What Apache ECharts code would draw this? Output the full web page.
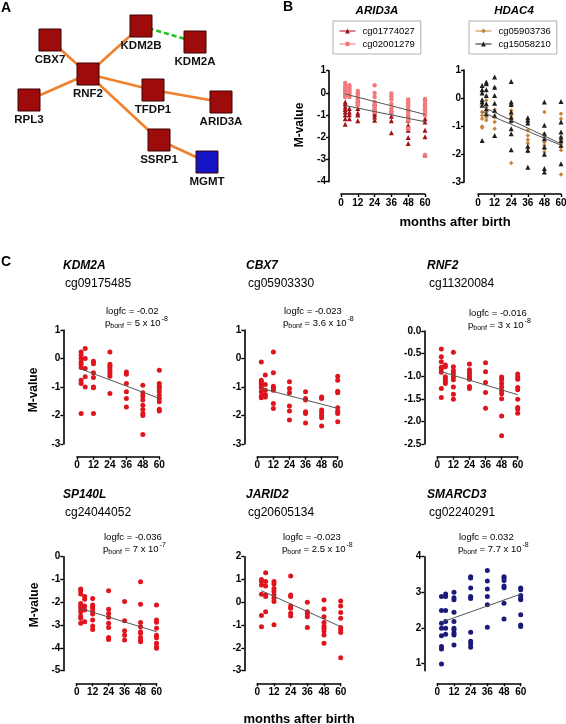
<!DOCTYPE html>
<html><head><meta charset="utf-8">
<script src="https://cdn.jsdelivr.net/npm/echarts@6/dist/echarts.min.js"></script>
<style>html,body{margin:0;padding:0;background:#fff}#c{width:566px;height:724px}</style>
</head><body><div id="c"></div><script>
const FONT = '"Liberation Sans", Arial, Helvetica, sans-serif';
const months = [3, 6, 12, 24, 36, 48, 60];
const fitMonths = [3, 60];

// ---- Panel A network ----
const netNodes = ['KDM2B','KDM2A','CBX7','RNF2','RPL3','TFDP1','ARID3A','SSRP1','MGMT'];
const netPos = [[141,26],[195,42],[50,40],[88,74],[29,100],[153,90],[221,102],[159,140],[207,162]];
const netBlue = ['MGMT'];
const netLinks = [['CBX7','RNF2'],['RNF2','KDM2B'],['RNF2','RPL3'],['RNF2','TFDP1'],['TFDP1','ARID3A'],['RNF2','SSRP1'],['SSRP1','MGMT']];
const netDashedLinks = [['KDM2B','KDM2A']];

// ---- Panel B ----
const arid3aNames = ['cg01774027','cg02001279'];
const arid3aA = [[-0.41,-0.5,-0.63,-0.75,-0.86,-1.0,-1.16,-1.41],[-0.7,-0.86,-0.98,-1.16],[-0.33,-0.48,-0.7,-0.9,-1.0,-1.26],[-0.48,-0.63,-0.75,-0.86,-0.96,-1.08,-1.23],[-0.75,-0.86,-1.05,-1.26,-1.79],[-1.0,-1.23,-1.46,-1.56,-1.68,-2.01,-2.28],[-1.16,-1.31,-1.68,-1.98,-2.8]];
const arid3aB = [[0.45,0.3,0.2,0.12,0,-0.1,-0.18],[0.35,0.24,0.15,0.05,-0.03,-0.18],[0.09,0,-0.1,-0.26,-0.33,-0.48,-0.56],[0.35,0,-0.18,-0.41,-0.5,-0.63,-0.75,-0.86],[-0.03,-0.15,-0.3,-0.5,-0.7,-0.86],[-0.3,-0.41,-0.5,-0.6,-0.75,-0.86,-1.0,-1.23,-1.6],[-0.27,-0.33,-0.45,-0.56,-0.66,-0.78,-0.93,-1.02,-2.8]];
const arid3aFitA = [-0.57,-1.3];
const arid3aFitB = [-0.05,-0.97];

const hdac4Names = ['cg05903736','cg15058210'];
const hdac4A = [[-0.5,-0.62,-0.74,-1.01,-1.06],[-0.08,-0.32,-0.5,-0.68,-0.79],[0.37,-0.42,-0.68,-0.85,-1.09],[-0.26,-0.44,-0.62,-0.74,-0.85,-2.31],[-1.15,-1.33,-1.48,-1.6,-1.77,-1.89],[-0.5,-1.27,-1.41,-1.57,-1.68,-1.8,-1.92],[-0.56,-0.74,-1.39,-1.51,-1.63,-1.74,-1.86,-2.72]];
const hdac4B = [[0.45,0.3,0.18,-0.06,-0.14,-0.26,-1.51],[0.57,0.51,0.3,0.09,-0.2,-0.38,-0.56],[0.75,0.39,0.09,-0.18,-0.44,-0.62,-1.33],[0.59,-0.14,-0.23,-0.5,-0.68,-0.79,-1.09,-1.27,-1.84],[-0.7,-0.79,-0.89,-1.72,-1.86,-2.46],[-0.14,-0.97,-1.27,-1.45,-1.74,-2.0,-2.51,-2.63],[-0.12,-0.85,-1.21,-1.39,-1.51,-1.68,-2.34]];
const hdac4FitA = [-0.5,-1.68];
const hdac4FitB = [-0.3,-1.63];

// ---- Panel C ----
const cGenes = ['KDM2A','CBX7','RNF2','SP140L','JARID2','SMARCD3'];
const cProbes = ['cg09175485','cg05903330','cg11320084','cg24044052','cg20605134','cg02240291'];
const cLogfc = ['-0.02','-0.023','-0.016','-0.036','-0.023','0.032'];
const cPbonf = [['5','-8'],['3.6','-8'],['3','-8'],['7','-7'],['2.5','-8'],['7.7','-8']];
const kdm2aVals = [[0.23,0.12,0,-0.12,-0.2,-0.32,-0.76,-0.88,-1.93],[0.35,0,-0.35,-0.64,-1.0],[-0.1,-0.18,-0.5,-0.67,-1.0,-1.03,-1.93],[0.23,-0.2,-0.27,-0.35,-0.44,-0.53,-0.62,-1.23],[-0.47,-0.55,-0.88,-1.17,-1.4,-1.7],[-0.94,-1.2,-1.32,-1.46,-1.64,-1.79,-1.93,-2.0,-2.67],[-0.41,-0.88,-0.97,-1.05,-1.17,-1.29,-1.4,-1.52,-1.78,-1.84]];
const cbx7Vals = [[-0.12,-0.76,-0.82,-0.88,-0.96,-1.03,-1.17,-1.32,-1.38],[-0.58,-0.91,-1.11,-1.26,-1.35],[0.23,-0.5,-0.97,-1.03,-1.11,-1.58,-1.75],[-0.82,-1.05,-1.2,-1.67,-1.84,-2.16],[-1.17,-1.4,-1.46,-1.87,-1.93,-2.26],[-1.35,-1.4,-1.81,-1.9,-1.99,-2.08,-2.37],[-0.62,-0.76,-1.15,-1.2,-1.73,-1.85,-1.93,-2.22]];
const rnf2Vals = [[-0.40,-0.57,-0.68,-0.8,-0.84,-0.91,-1.27,-1.47],[-0.75,-0.79,-1.01,-1.07,-1.12,-1.16],[-0.47,-0.79,-0.88,-0.94,-1.02,-1.08,-1.24,-1.4,-1.51],[-0.73,-0.86,-0.92,-0.97,-1.02,-1.07,-1.23,-1.27],[-0.7,-0.9,-1.14,-1.36,-1.71],[-1.02,-1.08,-1.16,-1.24,-1.32,-1.39,-1.5,-1.88,-2.32],[-0.95,-1.02,-1.07,-1.25,-1.3,-1.51,-1.69,-1.73,-1.82]];
const sp140lVals = [[-1.42,-1.49,-1.64,-2.05,-2.16,-2.27,-2.41,-2.6,-2.7,-2.92],[-1.75,-1.87,-2.16,-2.34,-2.85],[-1.83,-2.12,-2.19,-2.27,-2.41,-2.51,-2.78,-3.04,-3.19],[-1.49,-2.3,-2.49,-2.66,-2.92,-3.1,-3.54,-3.63],[-1.97,-2.81,-3.25,-3.44,-3.65],[-1.1,-2.09,-2.89,-3.07,-3.29,-3.36,-3.54,-3.65,-3.73],[-2.12,-2.78,-2.88,-3.14,-3.44,-3.55,-3.8,-3.95,-4.02]];
const jarid2Vals = [[1.0,0.91,0.76,0.35,-0.58,-1.07],[1.3,0.91,0.72,0.32,0.25,-0.41],[0.91,0.8,0.61,0.47,0.32,0.18,0.03,-0.99],[1.15,0.32,0.25,-0.16,-0.26,-0.48,-0.6],[0,-0.41,-0.51,-0.63,-1.11],[0.1,-0.29,-0.63,-0.89,-1.04,-1.14,-1.26,-1.43,-1.8],[0.06,-0.16,-0.45,-0.7,-1.1,-1.21,-1.33,-2.43]];
const smarcd3Vals = [[2.88,2.49,2.13,1.99,1.78,1.48,1.41,0.99],[2.95,2.88,2.49,2.18,1.99,1.82],[3.0,2.85,2.79,2.44,2.18,1.99,1.94,1.85,1.8,1.52],[3.44,3.4,3.12,2.88,2.83,1.88,1.63,1.55,1.46],[3.61,3.32,3.09,2.88,2.65,2.02],[3.44,3.4,3.33,3.18,3.13,2.69,2.25],[3.12,3.07,2.91,2.83,2.79,2.37,2.08,2.04]];
const cVals = [kdm2aVals, cbx7Vals, rnf2Vals, sp140lVals, jarid2Vals, smarcd3Vals];
const cFits = [[-0.37,-1.4],[-1.05,-1.75],[-0.9,-1.41],[-2.27,-3.29],[0.51,-1.07],[2.16,2.95]];
const cYRange = [[-3,1,1],[-3,1,1],[-2.5,0,0.5],[-5,0,1],[-3,2,1],[0.8,4,1]];
const cYLabels = [null,null,null,null,null,[1,2,3,4]];

// ---- layout (pixels) ----
const L = {
  b1:{left:341,right:425,top:70.7,bottom:181.7,yAx:329,xAx:194},
  b2:{left:478,right:561,top:70,bottom:182.3,yAx:464,xAx:194},
  c:[
    {left:77,right:159.3,top:330,bottom:444,yAx:63.3,xAx:456.7},
    {left:257.3,right:337.7,top:330,bottom:444,yAx:244.3,xAx:456.7},
    {left:437.3,right:517.7,top:331,bottom:444,yAx:424.3,xAx:456.7},
    {left:76.7,right:156.5,top:556.7,bottom:670.7,yAx:63.3,xAx:683.3},
    {left:257.3,right:340.7,top:556.7,bottom:670.7,yAx:244.3,xAx:683.3},
    {left:437.3,right:520.7,top:556.7,bottom:670.7,yAx:424.3,xAx:683.3}
  ]
};

function pairs(groups){ const out=[]; groups.forEach((vals,i)=>vals.forEach(v=>out.push([months[i],v]))); return out; }
function fitData(f){ return [[fitMonths[0],f[0]],[fitMonths[1],f[1]]]; }

const grids=[{left:0,top:0,width:566,height:724,show:false,outerBoundsMode:'none'}];
const xAxes=[{gridIndex:0,type:'value',min:0,max:566,show:false}];
const yAxes=[{gridIndex:0,type:'value',min:0,max:724,inverse:true,show:false}];
const axisLineStyle={color:'#000',width:1.6};
function addPanel(p, yMin, yMax, yInt, fmt, customY){
  const gi=grids.length;
  grids.push({left:p.left,top:p.top,width:p.right-p.left,height:p.bottom-p.top,show:false,outerBoundsMode:'none'});
  xAxes.push({gridIndex:gi,type:'value',min:0,max:60,interval:12,offset:p.xAx-p.bottom,
    axisLine:{show:true,onZero:false,lineStyle:axisLineStyle},
    axisTick:{show:true,length:3,lineStyle:{color:'#000',width:1.4}},
    axisLabel:{fontSize:10,fontWeight:'bold',color:'#000',fontFamily:FONT,margin:4},
    splitLine:{show:false}});
  const ya={gridIndex:gi,type:'value',min:yMin,max:yMax,interval:yInt,offset:p.left-p.yAx,
    axisLine:{show:true,onZero:false,lineStyle:axisLineStyle},
    axisTick:{show:true,length:3,lineStyle:{color:'#000',width:1.4}},
    axisLabel:{fontSize:10,fontWeight:'bold',color:'#000',fontFamily:FONT,margin:3},
    splitLine:{show:false}};
  if(fmt) ya.axisLabel.formatter=fmt;
  if(customY){ ya.axisLabel.customValues=customY; ya.axisTick.customValues=customY; }
  yAxes.push(ya);
  return gi;
}

const series=[];
// network
const nodeData = netNodes.map((n,i)=>({name:n,value:netPos[i],itemStyle:{color:netBlue.includes(n)?'#1414c4':'#9e0b0b'}}));
const linkData = netLinks.map(l=>({source:l[0],target:l[1],lineStyle:{color:'#f0802c',width:2.6,type:'solid',opacity:1}}))
  .concat(netDashedLinks.map(l=>({source:l[0],target:l[1],lineStyle:{color:'#22c022',width:2.6,type:[5,3],opacity:1}})));
series.push({type:'graph',coordinateSystem:'cartesian2d',xAxisIndex:0,yAxisIndex:0,layout:'none',
  symbol:'rect',symbolSize:22,data:nodeData,links:linkData,
  itemStyle:{borderColor:'#3a0000',borderWidth:1,opacity:1},
  lineStyle:{opacity:1,curveness:0},
  label:{show:true,position:'bottom',distance:2,fontSize:11.5,fontWeight:'bold',color:'#111',fontFamily:FONT},
  emphasis:{disabled:true},silent:true,z:2});

function pointSeries(name, gi, data, symbol, size, color){
  return {name,type:'line',xAxisIndex:gi,yAxisIndex:gi,data,symbol,symbolSize:size,showSymbol:true,
    lineStyle:{width:0,opacity:0},itemStyle:{color,opacity:1},clip:false,silent:true,z:3};
}
function fitSeries(gi, f){
  return {type:'line',xAxisIndex:gi,yAxisIndex:gi,data:fitData(f),symbol:'none',
    lineStyle:{color:'#555',width:1},clip:false,silent:true,z:4};
}

// B1
let g=addPanel(L.b1,-4,1,1);
series.push(pointSeries(arid3aNames[0],g,pairs(arid3aA),'triangle',5,'#a3121a'));
series.push(pointSeries(arid3aNames[1],g,pairs(arid3aB),'circle',4.5,'#f27a7c'));
series.push(fitSeries(g,arid3aFitA)); series.push(fitSeries(g,arid3aFitB));
// B2
g=addPanel(L.b2,-3,1,1);
series.push(pointSeries(hdac4Names[0],g,pairs(hdac4A),'diamond',4.5,'#c9843c'));
series.push(pointSeries(hdac4Names[1],g,pairs(hdac4B),'triangle',5,'#1e1e1e'));
series.push(fitSeries(g,hdac4FitA)); series.push(fitSeries(g,hdac4FitB));
// C
cVals.forEach((vals,i)=>{
  const r=cYRange[i];
  const gi=addPanel(L.c[i],r[0],r[1],r[2], i===2?(v=>v.toFixed(1)):null, cYLabels[i]);
  series.push({type:'scatter',xAxisIndex:gi,yAxisIndex:gi,data:pairs(vals),symbol:'circle',symbolSize:5,
    itemStyle:{color:i===5?'#1a1a7a':'#e0141c',opacity:1},clip:false,silent:true,z:3});
  series.push(fitSeries(gi,cFits[i]));
});

const legendCommon={orient:'vertical',itemWidth:16,itemHeight:6,itemGap:3,padding:[5,6,5,6],
  borderColor:'#b0b0b0',borderWidth:1,selectedMode:false,
  textStyle:{fontSize:9.5,color:'#000',fontFamily:FONT,padding:[0,0,0,2]},
  lineStyle:{width:1,opacity:1}};
const legends=[
  Object.assign({},legendCommon,{data:arid3aNames,left:333,top:21}),
  Object.assign({},legendCommon,{data:hdac4Names,left:469,top:21})
];

// texts
const T=[];
function txt(x,y,s,font,align,rot){
  T.push({type:'text',x,y,rotation:rot||0,style:{text:s,font,fill:'#000',textAlign:align||'left',textVerticalAlign:'middle'}});
}
const bold14='bold 14px '+FONT;
txt(1,8,'A',bold14); txt(283,7,'B',bold14); txt(1,262,'C',bold14);
txt(377,11,'ARID3A','italic bold 11.5px '+FONT,'center');
txt(514,11,'HDAC4','italic bold 11.5px '+FONT,'center');
txt(455,222,'months after birth','bold 13px '+FONT,'center');
txt(299,719,'months after birth','bold 13px '+FONT,'center');
T.push({type:'text',x:300,y:125,rotation:Math.PI/2,style:{text:'M-value',font:'bold 12px '+FONT,fill:'#000',textAlign:'center',textVerticalAlign:'middle'}});
T.push({type:'text',x:34,y:390,rotation:Math.PI/2,style:{text:'M-value',font:'bold 12px '+FONT,fill:'#000',textAlign:'center',textVerticalAlign:'middle'}});
T.push({type:'text',x:35,y:605,rotation:Math.PI/2,style:{text:'M-value',font:'bold 12px '+FONT,fill:'#000',textAlign:'center',textVerticalAlign:'middle'}});
const titleX=[63,246,427,63,246,427];
const titleY=[266,266,266,495,495,495];
const annX=[106,284,469,104,283,459];
const annY=[311,311,313,537,537,537];
cGenes.forEach((gname,i)=>{
  txt(titleX[i],titleY[i],gname,'italic bold 12px '+FONT);
  txt(titleX[i]+2,titleY[i]+18,cProbes[i],'12px '+FONT);
  txt(annX[i],annY[i],'logfc = '+cLogfc[i],'9.5px '+FONT);
  T.push({type:'text',x:annX[i]-1,y:annY[i]+12,style:{
    text:'{b|p}{s|bonf}{b| = '+cPbonf[i][0]+' x 10}{u|'+cPbonf[i][1]+'}',
    fill:'#000',textAlign:'left',textVerticalAlign:'middle',
    rich:{b:{fontSize:9.5,fontFamily:FONT,lineHeight:14,verticalAlign:'middle'},
          s:{fontSize:7,fontFamily:FONT,lineHeight:14,verticalAlign:'bottom',padding:[4,0,0,0]},
          u:{fontSize:7,fontFamily:FONT,lineHeight:14,verticalAlign:'top',padding:[0,0,6,1]}}}});
});

const chart=echarts.init(document.getElementById('c'),null,{renderer:'canvas'});
chart.setOption({animation:false,backgroundColor:'#fff',grid:grids,xAxis:xAxes,yAxis:yAxes,series,legend:legends,graphic:T});
</script></body></html>
